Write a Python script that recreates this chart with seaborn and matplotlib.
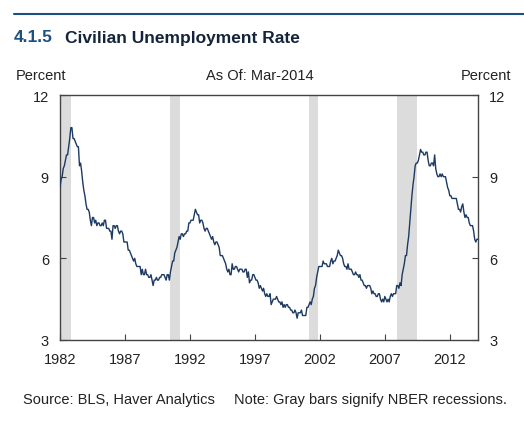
import numpy as np
import pandas as pd
import matplotlib
matplotlib.use("Agg")
import matplotlib.pyplot as plt
import seaborn as sns

# Monthly civilian unemployment rate, Jan-1982 .. Mar-2014 (percent)
rate_by_year = {
    1982: [8.6, 8.9, 9.0, 9.3, 9.4, 9.6, 9.8, 9.8, 10.1, 10.4, 10.8, 10.8],
    1983: [10.4, 10.4, 10.3, 10.2, 10.1, 10.1, 9.4, 9.5, 9.2, 8.8, 8.5, 8.3],
    1984: [8.0, 7.8, 7.8, 7.7, 7.4, 7.2, 7.5, 7.5, 7.3, 7.4, 7.2, 7.3],
    1985: [7.3, 7.2, 7.2, 7.3, 7.2, 7.4, 7.4, 7.1, 7.1, 7.1, 7.0, 7.0],
    1986: [6.7, 7.2, 7.2, 7.1, 7.2, 7.2, 7.0, 6.9, 7.0, 7.0, 6.9, 6.6],
    1987: [6.6, 6.6, 6.6, 6.3, 6.3, 6.2, 6.1, 6.0, 5.9, 6.0, 5.8, 5.7],
    1988: [5.7, 5.7, 5.7, 5.4, 5.6, 5.4, 5.4, 5.6, 5.4, 5.4, 5.3, 5.3],
    1989: [5.4, 5.2, 5.0, 5.2, 5.2, 5.3, 5.2, 5.2, 5.3, 5.3, 5.4, 5.4],
    1990: [5.4, 5.3, 5.2, 5.4, 5.4, 5.2, 5.5, 5.7, 5.9, 5.9, 6.2, 6.3],
    1991: [6.4, 6.6, 6.8, 6.7, 6.9, 6.9, 6.8, 6.9, 6.9, 7.0, 7.0, 7.3],
    1992: [7.3, 7.4, 7.4, 7.4, 7.6, 7.8, 7.7, 7.6, 7.6, 7.3, 7.4, 7.4],
    1993: [7.3, 7.1, 7.0, 7.1, 7.1, 7.0, 6.9, 6.8, 6.7, 6.8, 6.6, 6.5],
    1994: [6.6, 6.6, 6.5, 6.4, 6.1, 6.1, 6.1, 6.0, 5.9, 5.8, 5.6, 5.5],
    1995: [5.6, 5.4, 5.4, 5.8, 5.6, 5.6, 5.7, 5.7, 5.6, 5.5, 5.6, 5.6],
    1996: [5.6, 5.5, 5.5, 5.6, 5.6, 5.3, 5.5, 5.1, 5.2, 5.2, 5.4, 5.4],
    1997: [5.3, 5.2, 5.2, 5.1, 4.9, 5.0, 4.9, 4.8, 4.9, 4.7, 4.6, 4.7],
    1998: [4.6, 4.6, 4.7, 4.3, 4.4, 4.5, 4.5, 4.5, 4.6, 4.5, 4.4, 4.4],
    1999: [4.3, 4.4, 4.2, 4.3, 4.2, 4.3, 4.3, 4.2, 4.2, 4.1, 4.1, 4.0],
    2000: [4.0, 4.1, 4.0, 3.8, 4.0, 4.0, 4.0, 4.1, 3.9, 3.9, 3.9, 3.9],
    2001: [4.2, 4.2, 4.3, 4.4, 4.3, 4.5, 4.6, 4.9, 5.0, 5.3, 5.5, 5.7],
    2002: [5.7, 5.7, 5.7, 5.9, 5.8, 5.8, 5.8, 5.7, 5.7, 5.7, 5.9, 6.0],
    2003: [5.8, 5.9, 5.9, 6.0, 6.1, 6.3, 6.2, 6.1, 6.1, 6.0, 5.8, 5.7],
    2004: [5.7, 5.6, 5.8, 5.6, 5.6, 5.6, 5.5, 5.4, 5.4, 5.5, 5.4, 5.4],
    2005: [5.3, 5.4, 5.2, 5.2, 5.1, 5.0, 5.0, 4.9, 5.0, 5.0, 5.0, 4.9],
    2006: [4.7, 4.8, 4.7, 4.7, 4.6, 4.6, 4.7, 4.7, 4.5, 4.4, 4.5, 4.4],
    2007: [4.6, 4.5, 4.4, 4.5, 4.4, 4.6, 4.7, 4.6, 4.7, 4.7, 4.7, 5.0],
    2008: [5.0, 4.9, 5.1, 5.0, 5.4, 5.6, 5.8, 6.1, 6.1, 6.5, 6.8, 7.3],
    2009: [7.8, 8.3, 8.7, 9.0, 9.4, 9.5, 9.5, 9.6, 9.8, 10.0, 9.9, 9.9],
    2010: [9.8, 9.8, 9.9, 9.9, 9.6, 9.4, 9.4, 9.5, 9.5, 9.4, 9.8, 9.3],
    2011: [9.1, 9.0, 9.0, 9.1, 9.0, 9.1, 9.0, 9.0, 9.0, 8.8, 8.6, 8.5],
    2012: [8.3, 8.3, 8.2, 8.2, 8.2, 8.2, 8.2, 8.0, 7.8, 7.8, 7.7, 7.9],
    2013: [8.0, 7.7, 7.5, 7.6, 7.5, 7.5, 7.3, 7.2, 7.2, 7.2, 7.0, 6.7],
    2014: [6.6, 6.7, 6.7],
}

# NBER recessions (start, end) in decimal years
recession_starts = [1981.5, 1990.5, 2001.17, 2007.92]
recession_ends = [1982.88, 1991.2, 2001.88, 2009.46]

x_ticks = [1982, 1987, 1992, 1997, 2002, 2007, 2012]
y_ticks = [3, 6, 9, 12]

rows = []
for yr, vals in rate_by_year.items():
    for m, v in enumerate(vals):
        rows.append((yr + m / 12.0, v))
df = pd.DataFrame(rows, columns=["date", "rate"])

sns.set_theme(style="white")
plt.rcParams["font.family"] = ["Liberation Sans", "DejaVu Sans"]

fig = plt.figure(figsize=(5.24, 4.39), dpi=100)
ax = fig.add_axes([60 / 524, 1 - 341 / 439, (478 - 60) / 524, (341 - 96) / 439])

for s, e in zip(recession_starts, recession_ends):
    ax.axvspan(s, e, color="#dcdcdc", lw=0, zorder=0)

sns.lineplot(data=df, x="date", y="rate", ax=ax, color="#1c3a63", lw=1.0, zorder=3)

ax.set_xlim(1982.0, 2014.17)
ax.set_ylim(3, 12)
ax.set_xticks(x_ticks)
ax.set_xticklabels([str(t) for t in x_ticks], fontsize=10.5, color="#222222")
ax.set_yticks(y_ticks)
ax.set_yticklabels([str(t) for t in y_ticks], fontsize=10.5, color="#222222")
ax.tick_params(axis="x", direction="in", length=4, width=0.8, color="#444444",
               bottom=True, top=False, pad=9)
ax.tick_params(axis="y", direction="in", length=4, width=0.8, color="#444444",
               left=True, right=True, labelleft=True, labelright=True, pad=8)
ax.set_xlabel("")
ax.set_ylabel("")
for sp in ax.spines.values():
    sp.set_visible(True)
    sp.set_color("#444444")
    sp.set_linewidth(1.0)

# Header
title_family = ["Liberation Sans", "DejaVu Sans"]
fig.add_artist(plt.Line2D([14 / 524, 1.0], [1 - 15 / 439, 1 - 15 / 439],
                          color="#1d4f80", lw=1.5))
fig.text(14 / 524, 1 - 38 / 439, "4.1.5", fontsize=12.5, fontweight="bold",
         color="#1d4f80", va="center", ha="left", family=title_family)
fig.text(65 / 524, 1 - 38 / 439, "Civilian Unemployment Rate", fontsize=12.5,
         fontweight="bold", color="#14243a", va="center", ha="left",
         family=title_family)

fig.text(16 / 524, 1 - 76 / 439, "Percent", fontsize=10.5, color="#222222",
         va="center", ha="left")
fig.text(511 / 524, 1 - 76 / 439, "Percent", fontsize=10.5, color="#222222",
         va="center", ha="right")
fig.text(260 / 524, 1 - 76 / 439, "As Of: Mar-2014", fontsize=10.5,
         color="#222222", va="center", ha="center")

fig.text(23 / 524, 1 - 400 / 439, "Source: BLS, Haver Analytics", fontsize=10.5,
         color="#222222", va="center", ha="left")
fig.text(507 / 524, 1 - 400 / 439, "Note: Gray bars signify NBER recessions.",
         fontsize=10.5, color="#222222", va="center", ha="right")

fig.savefig("out.png", dpi=100)
